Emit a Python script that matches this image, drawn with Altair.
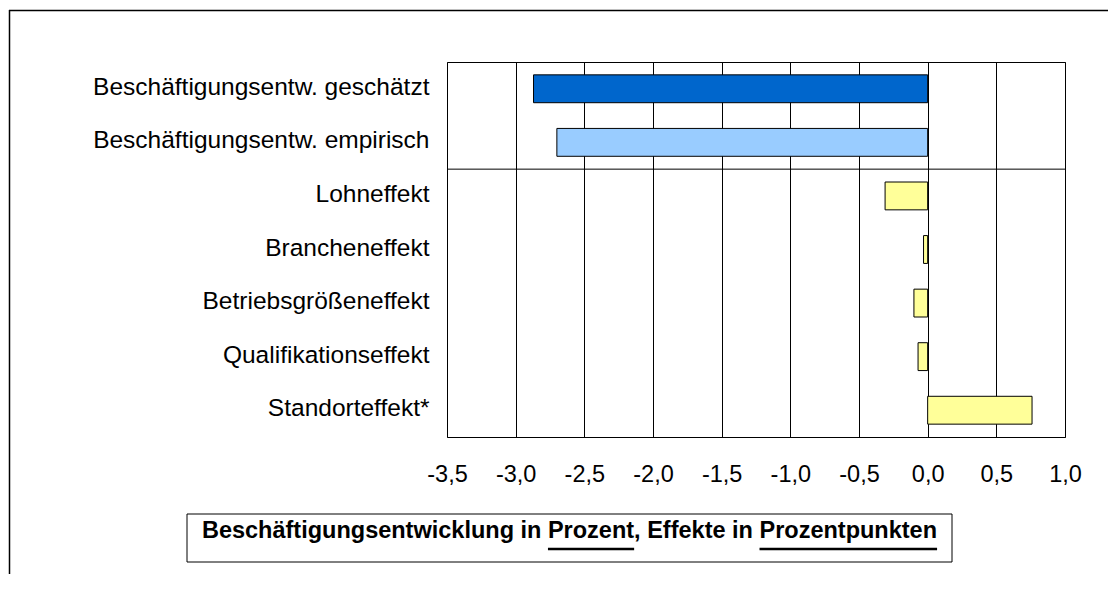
import altair as alt
import pandas as pd

# ---------------- data ----------------
categories = [
    "Beschäftigungsentw. geschätzt",
    "Beschäftigungsentw. empirisch",
    "Lohneffekt",
    "Brancheneffekt",
    "Betriebsgrößeneffekt",
    "Qualifikationseffekt",
    "Standorteffekt*",
]
values = [-2.87, -2.70, -0.31, -0.03, -0.10, -0.07, 0.76]
bar_colors = ["#0066CC", "#99CCFF", "#FFFF99", "#FFFF99", "#FFFF99", "#FFFF99", "#FFFF99"]
x_ticks = [-3.5, -3.0, -2.5, -2.0, -1.5, -1.0, -0.5, 0.0, 0.5, 1.0]
separator_before = ["Lohneffekt"]
caption = "Beschäftigungsentwicklung in Prozent, Effekte in Prozentpunkten"
underlined_words = ["Prozent", "Prozentpunkten"]

# ---------------- layout ----------------
W, H = 618, 375
PAD_L, PAD_T, PAD_R, PAD_B = 439, 54, 43, 137
FONT = "Liberation Sans"
Y_FS = 24.5
X_FS = 23.5
CAP_FS = 23.5

df = pd.DataFrame({"Kategorie": categories, "Wert": values})

y_enc = alt.Y(
    "Kategorie:N",
    sort=categories,
    scale=alt.Scale(domain=categories, paddingInner=0.48, paddingOuter=0.24),
    axis=alt.Axis(
        title=None, ticks=False, domain=False, labelLimit=600,
        labelPadding=18, labelFontSize=Y_FS, labelFont=FONT,
        labelColor="black", grid=False, labelOffset=-1,
    ),
)

bars = alt.Chart(df).mark_bar(stroke="black", strokeWidth=1).encode(
    x=alt.X(
        "Wert:Q",
        scale=alt.Scale(domain=[-3.5, 1.0], nice=False, zero=False),
        stack=None,
        axis=alt.Axis(
            title=None, values=x_ticks, ticks=False, domain=False,
            labelExpr="replace(replace(format(datum.value, '.1f'), '.', ','), '\u2212', '-')",
            labelFontSize=X_FS, labelFont=FONT, labelColor="black",
            labelPadding=25, grid=True, gridColor="black", gridOpacity=1,
            gridWidth=1, labelFlush=False,
        ),
    ),
    x2=alt.datum(0),
    y=y_enc,
    color=alt.Color("Kategorie:N",
                    scale=alt.Scale(domain=categories, range=bar_colors),
                    legend=None),
)

step = H / len(categories)
sep = alt.Chart(pd.DataFrame({"Kategorie": separator_before})).mark_rule(
    color="black", strokeWidth=1, yOffset=-step / 2
).encode(
    y=alt.Y("Kategorie:N", sort=categories),
    x=alt.value(0), x2=alt.value(W),
)

# ---------------- caption with underlines ----------------
arial_bold = {
    "B": 722, "e": 556, "s": 556, "c": 556, "h": 611, "ä": 556, "f": 333,
    "t": 333, "i": 278, "g": 611, "u": 611, "n": 611, "w": 778, "k": 556,
    "l": 278, " ": 278, "P": 667, "r": 389, "o": 611, "z": 500, ",": 278,
    "E": 667, "p": 611,
}


def tw(s):
    return sum(arial_bold.get(ch, 556) for ch in s) / 1000 * CAP_FS


box_x0, box_x1 = 187 - 447, 952 - 447
box_y0, box_y1 = 514 - 62, 562 - 62
cap_cx = (box_x0 + box_x1) / 2
cap_x0 = cap_cx - tw(caption) / 2
cap_base = 538 - 62

ul_rows = []
search_from = 0
for wd in underlined_words:
    idx = caption.index(wd, search_from)
    search_from = idx + len(wd)
    ul_rows.append({"a": cap_x0 + tw(caption[:idx]), "b": cap_x0 + tw(caption[:idx + len(wd)])})

one = pd.DataFrame({"t": [caption]})

box = alt.Chart(one).mark_rect(fill="white", stroke="black", strokeWidth=1).encode(
    x=alt.value(box_x0), x2=alt.value(box_x1),
    y=alt.value(box_y0), y2=alt.value(box_y1),
)
cap_text = alt.Chart(one).mark_text(
    font=FONT, fontSize=CAP_FS, fontWeight="bold", align="left",
    baseline="alphabetic", color="black",
).encode(text="t:N", x=alt.value(cap_x0), y=alt.value(cap_base))

ul_layers = []
for r in ul_rows:
    ul_layers.append(
        alt.Chart(one).mark_rule(color="black", strokeWidth=2.5).encode(
            x=alt.value(r["a"]), x2=alt.value(r["b"]),
            y=alt.value(cap_base + 11),
        )
    )

# ---------------- outer frame ----------------
frame_top = alt.Chart(one).mark_rule(color="black", strokeWidth=1.5).encode(
    x=alt.value(-PAD_L + 1), x2=alt.value(W + PAD_R), y=alt.value(-PAD_T + 2.5)
)
frame_left = alt.Chart(one).mark_rule(color="black", strokeWidth=1.5).encode(
    x=alt.value(-PAD_L + 1.5), y=alt.value(-PAD_T + 2), y2=alt.value(H + PAD_B)
)

chart = alt.layer(
    bars, sep, box, cap_text, *ul_layers, frame_top, frame_left
).properties(
    width=W, height=H,
    autosize=alt.AutoSizeParams(type="none"),
    padding={"left": PAD_L, "top": PAD_T, "right": PAD_R, "bottom": PAD_B},
    background="white",
).configure_view(stroke="black", strokeWidth=1)

chart.save("out.html", embed_options={"renderer": "svg", "actions": False})
